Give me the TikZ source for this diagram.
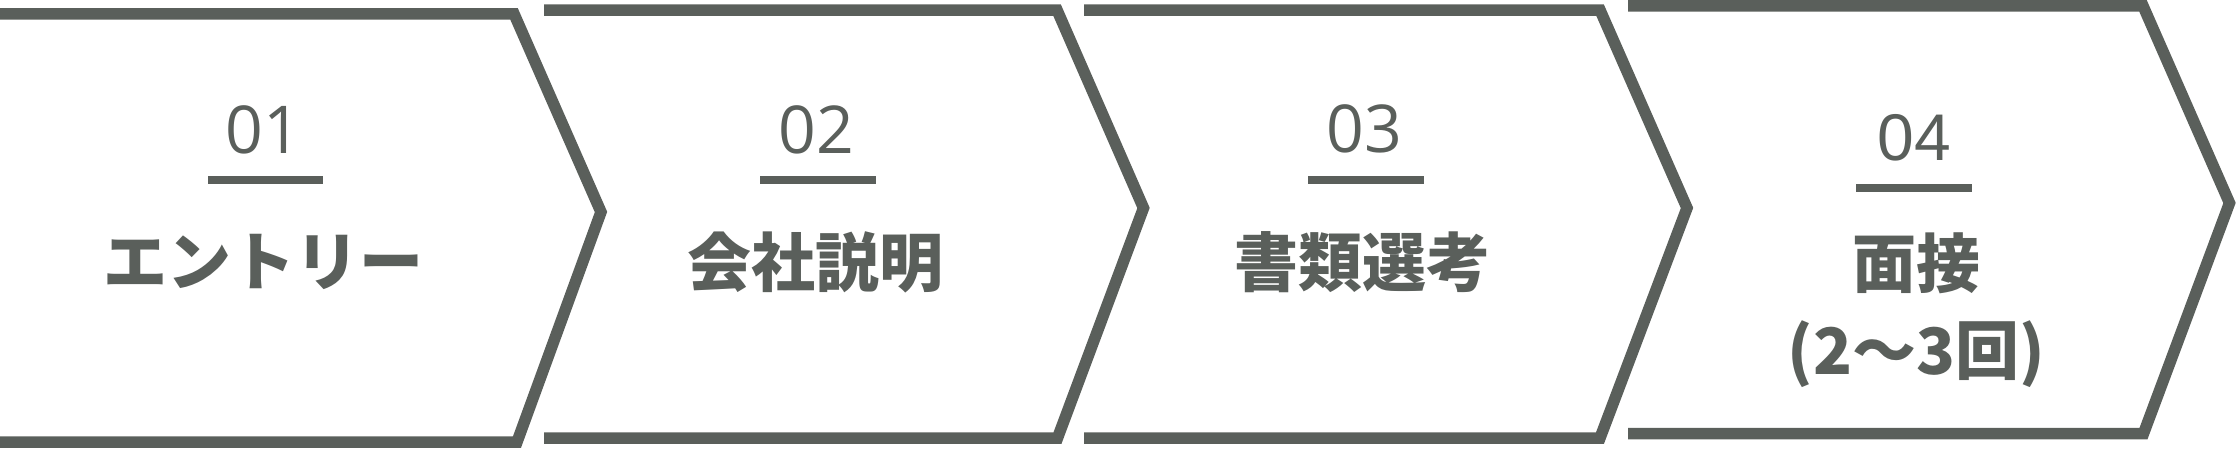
\documentclass[tikz,border=0pt]{standalone}
\usepackage{fontspec}
\newfontfamily\jpfont{Noto Sans CJK JP}
\newfontfamily\numfont{Open Sans}
\newfontfamily\numfontb{Liberation Sans}
\definecolor{ink}{RGB}{90,95,91}
\tikzset{
  chevron/.style={draw=ink, line width=11.5pt, line join=miter, miter limit=20},
  rule/.style={draw=ink, line width=7.7pt},
  num/.style={text=ink, inner sep=0pt, anchor=base, font=\numfont\fontsize{66}{70}\selectfont},
  numb/.style={text=ink, inner sep=0pt, anchor=base, font=\numfontb\fontsize{66}{70}\selectfont},
  label/.style={text=ink, inner sep=0pt, anchor=center, font=\jpfont\bfseries\fontsize{64}{92}\selectfont, align=center}
}
\begin{document}
\begin{tikzpicture}[x=1pt,y=-1pt]
\useasboundingbox (0,0) rectangle (2237,448);
% chevrons
\draw[chevron] (-12,13.8) -- (514,13.8) -- (601,212) -- (517,442) -- (-12,442);
\draw[chevron] (544,10) -- (1057,10) -- (1143.5,208) -- (1057.5,438) -- (544,438);
\draw[chevron] (1084,10) -- (1600,10) -- (1687,208) -- (1600,438) -- (1084,438);
\draw[chevron] (1628,5.9) -- (2143,5.9) -- (2229.5,203) -- (2143.5,433.5) -- (1628,433.5);
% step 1
\node[num] (n1) at (263,153) {01};
\coordinate (u1a) at (208,180); \coordinate (u1b) at (323,180);
\draw[rule] (u1a) -- (u1b);
\node[label] (t1) at (263,262) {エントリー};
% step 2
\node[num] (n2) at (816,153) {02};
\coordinate (u2a) at (760,180); \coordinate (u2b) at (876,180);
\draw[rule] (u2a) -- (u2b);
\node[label] (t2) at (815,262) {会社説明};
% step 3
\node[num] (n3) at (1364,152) {03};
\coordinate (u3a) at (1308,180); \coordinate (u3b) at (1424,180);
\draw[rule] (u3a) -- (u3b);
\node[label] (t3) at (1362,262) {書類選考};
% step 4
\node[numb] (n4) at (1914,160) {04};
\coordinate (u4a) at (1856,188); \coordinate (u4b) at (1972,188);
\draw[rule] (u4a) -- (u4b);
\node[label] (t4) at (1916,263) {面接};
\node[label] (t4b) at (1916,354) {(2〜3回)};
\end{tikzpicture}
\end{document}
